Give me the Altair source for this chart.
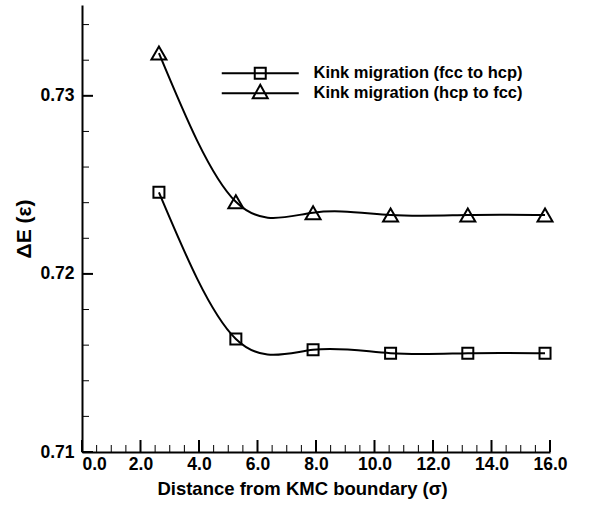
import altair as alt
import pandas as pd

# ---- data ----
distance = [2.63, 5.26, 7.90, 10.55, 13.19, 15.83]
fcc_to_hcp = [0.72458, 0.71635, 0.71574, 0.71555, 0.71555, 0.71555]
hcp_to_fcc = [0.73240, 0.72405, 0.72344, 0.72331, 0.72331, 0.72331]
series_names = ["Kink migration (fcc to hcp)", "Kink migration (hcp to fcc)"]

x_major = [0.0, 2.0, 4.0, 6.0, 8.0, 10.0, 12.0, 14.0, 16.0]
x_minor = [0.5, 1.0, 1.5, 2.5, 3.0, 3.5, 4.5, 5.0, 5.5, 6.5, 7.0, 7.5,
           8.5, 9.0, 9.5, 10.5, 11.0, 11.5, 12.5, 13.0, 13.5, 14.5, 15.0, 15.5]
y_major = [0.71, 0.72, 0.73]
y_minor = [0.712, 0.714, 0.716, 0.718, 0.722, 0.724, 0.726, 0.728, 0.732, 0.734]

df = pd.DataFrame({
    "x": distance * 2,
    "y": fcc_to_hcp + hcp_to_fcc,
    "series": [series_names[0]] * len(distance) + [series_names[1]] * len(distance),
})

W, H = 468, 447
FONT = "Liberation Sans"

xscale = alt.Scale(domain=[0, 16], nice=False, zero=False)
yscale = alt.Scale(domain=[0.71, 0.7351], nice=False, zero=False)

x_axis = alt.Axis(values=x_major, format=".1f", ticks=False, grid=False,
                  domainColor="black", domainWidth=2,
                  labelFont=FONT, labelFontSize=17.5, labelFontWeight="bold",
                  labelColor="black", labelPadding=3, labelFlush=False,
                  labelAlign=alt.ExprRef(expr="datum.value == 0 ? 'left' : 'center'"),
                  title="Distance from KMC boundary (σ)", titleFont=FONT,
                  titleFontSize=18.5, titleFontWeight="bold", titleColor="black",
                  titlePadding=7, titleX=220)
y_axis = alt.Axis(values=y_major, format=".2f", ticks=False, grid=False,
                  domainColor="black", domainWidth=2,
                  labelFont=FONT, labelFontSize=17.5, labelFontWeight="bold",
                  labelColor="black", labelPadding=8,
                  title="ΔE (ε)", titleFont=FONT,
                  titleFontSize=21, titleFontWeight="bold", titleColor="black",
                  titlePadding=5)

X = alt.X("x:Q", scale=xscale, axis=x_axis)
Y = alt.Y("y:Q", scale=yscale, axis=y_axis)

lines = alt.Chart(df).mark_line(interpolate="natural", color="black",
                                strokeWidth=2).encode(x=X, y=Y, detail="series:N")

pts_sq = alt.Chart(df).transform_filter(
    alt.datum.series == series_names[0]
).mark_point(shape="square", size=121, filled=False, color="black",
             strokeWidth=2, opacity=1).encode(x=X, y=Y)

pts_tri = alt.Chart(df).transform_filter(
    alt.datum.series == series_names[1]
).mark_point(shape="triangle-up", size=225, filled=False, color="black",
             strokeWidth=2, opacity=1).encode(x=X, y=Y)

sq_path = "M-7,0H7M-1,-1H1V1H-1Z"
tri_path = "M-7,0H7M0,-1.55L1.36,0.9L-1.36,0.9Z"

legend_layer = alt.Chart(df).transform_filter("false").mark_point(
    filled=False, color="black", strokeWidth=2, size=121, opacity=1
).encode(
    x=X, y=Y,
    shape=alt.Shape("series:N",
                    scale=alt.Scale(domain=series_names, range=[sq_path, tri_path]),
                    legend=alt.Legend(title=None, orient="none", legendX=170,
                                      legendY=60, padding=0,
                                      labelFont=FONT, labelFontSize=16.5,
                                      labelFontWeight="bold", labelColor="black",
                                      labelOffset=45, rowPadding=-3, labelLimit=400,
                                      symbolSize=121, symbolStrokeColor="black",
                                      symbolStrokeWidth=2,
                                      symbolFillColor="transparent")),
)

# inward tick marks (positions come from the tick value lists through the shared scales)
xt_major = alt.Chart(pd.DataFrame({"x": x_major})).mark_rule(
    color="black", strokeWidth=2).encode(x=X, y=alt.value(H), y2=alt.value(H - 12))
xt_minor = alt.Chart(pd.DataFrame({"x": x_minor})).mark_rule(
    color="black", strokeWidth=1).encode(x=X, y=alt.value(H), y2=alt.value(H - 7))
yt_major = alt.Chart(pd.DataFrame({"y": y_major})).mark_rule(
    color="black", strokeWidth=2).encode(y=Y, x=alt.value(0), x2=alt.value(11))
yt_minor = alt.Chart(pd.DataFrame({"y": y_minor})).mark_rule(
    color="black", strokeWidth=1).encode(y=Y, x=alt.value(0), x2=alt.value(7))

chart = alt.layer(
    xt_minor, xt_major, yt_minor, yt_major, lines, pts_sq, pts_tri, legend_layer
).properties(
    width=W, height=H,
    autosize=alt.AutoSizeParams(type="none"),
    padding={"left": 82, "top": 5, "right": 55, "bottom": 54},
    background="white",
).configure_view(stroke=None)

chart.save("out.html", embed_options={"renderer": "svg", "actions": False})
